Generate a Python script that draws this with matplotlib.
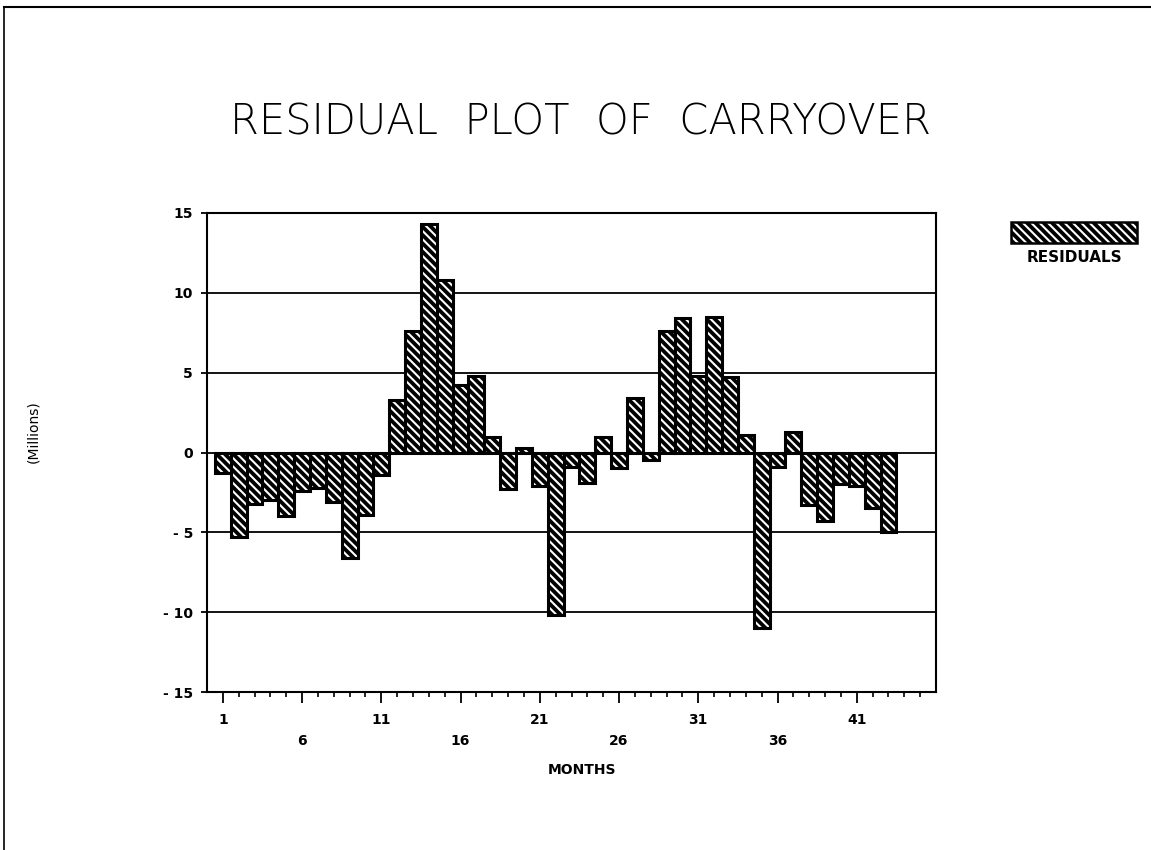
import numpy as np
import matplotlib
matplotlib.use("Agg")
import matplotlib.pyplot as plt
from matplotlib.patches import Rectangle
from matplotlib.lines import Line2D

# --- data ---
months = np.arange(1, 44)
residuals = [-1.3, -5.3, -3.2, -3.0, -4.0, -2.4, -2.2, -3.1, -6.6, -3.9, -1.4,
             3.3, 7.6, 14.3, 10.8, 4.2, 4.8, 1.0, -2.3, 0.3, -2.1, -10.2,
             -0.9, -1.9, 1.0, -1.0, 3.4, -0.5, 7.6, 8.4, 4.8, 8.5, 4.7, 1.1,
             -11.0, -0.9, 1.3, -3.3, -4.3, -2.0, -2.1, -3.5, -5.0]
yticks = [15, 10, 5, 0, -5, -10, -15]
ytick_labels = ["15", "10", "5", "0", "- 5", "- 10", "- 15"]
major_months = [1, 6, 11, 16, 21, 26, 31, 36, 41]

plt.rcParams['font.family'] = ['DejaVu Sans']
plt.rcParams['hatch.linewidth'] = 1.5

W, H = 1151, 850
fig = plt.figure(figsize=(W / 100, H / 100), dpi=100)
fig.patch.set_facecolor("white")

# axes box in pixel coords: left 207, right 936, top 213, bottom 692
ax = fig.add_axes([207 / W, 1 - 692 / H, (936 - 207) / W, (692 - 213) / H])
ax.set_xlim(0, 46)
ax.set_ylim(-15, 15)

# horizontal grid lines
for y in [-10, -5, 0, 5, 10]:
    ax.axhline(y, color="black", lw=1.3, zorder=1)

# hatched bars: black with white stripes, then black outline on top
hatch = "\\\\\\\\"
ax.bar(months, residuals, width=1.0, color="black", edgecolor="white",
       hatch=hatch, linewidth=0, zorder=2)
ax.bar(months, residuals, width=1.0, fill=False, edgecolor="black",
       linewidth=2.2, zorder=3)

for s in ax.spines.values():
    s.set_linewidth(1.5)
    s.set_color("black")

ax.set_yticks(yticks)
ax.set_yticklabels(ytick_labels, fontsize=10, fontweight="bold")
ax.tick_params(axis="y", direction="out", length=4, width=1.3, pad=6)

ax.set_xticks(major_months)
ax.set_xticks(np.arange(1, 46), minor=True)
ax.set_xticklabels([])
ax.tick_params(axis="x", which="major", direction="out", length=8, width=1.3)
ax.tick_params(axis="x", which="minor", direction="out", length=3.5, width=1.2)

# staggered month labels
xt = ax.get_xaxis_transform()
for i, m in enumerate(major_months):
    yy = -0.058 if i % 2 == 0 else -0.102
    ax.text(m, yy, str(m), transform=xt, ha="center", va="center",
            fontsize=10, fontweight="bold")

fig.text(582 / W, 1 - 770 / H, "MONTHS", ha="center", va="center",
         fontsize=10, fontweight="bold")
fig.text(33 / W, 1 - 432 / H, "(Millions)", rotation=90, ha="center",
         va="center", fontsize=10)

fig.text(581 / W, 1 - 122 / H, "RESIDUAL  PLOT  OF  CARRYOVER", ha="center",
         va="center", fontsize=30, fontweight="light")

# legend swatch
lx, ly, lw_, lh = 1011 / W, 1 - 243 / H, 126 / W, 21 / H
fig.patches.append(Rectangle((lx, ly), lw_, lh, transform=fig.transFigure,
                             facecolor="black", edgecolor="white",
                             hatch=hatch, linewidth=0))
fig.patches.append(Rectangle((lx, ly), lw_, lh, transform=fig.transFigure,
                             fill=False, edgecolor="black", linewidth=1.8))
fig.text(1074 / W, 1 - 257 / H, "RESIDUALS", ha="center", va="center",
         fontsize=11, fontweight="bold")

# page frame (top and left edge)
fig.add_artist(Line2D([4 / W, 1], [1 - 7 / H, 1 - 7 / H],
                      transform=fig.transFigure, color="black", lw=1.5))
fig.add_artist(Line2D([4 / W, 4 / W], [0, 1 - 7 / H],
                      transform=fig.transFigure, color="black", lw=1.2))

fig.savefig("out.png", dpi=100)
